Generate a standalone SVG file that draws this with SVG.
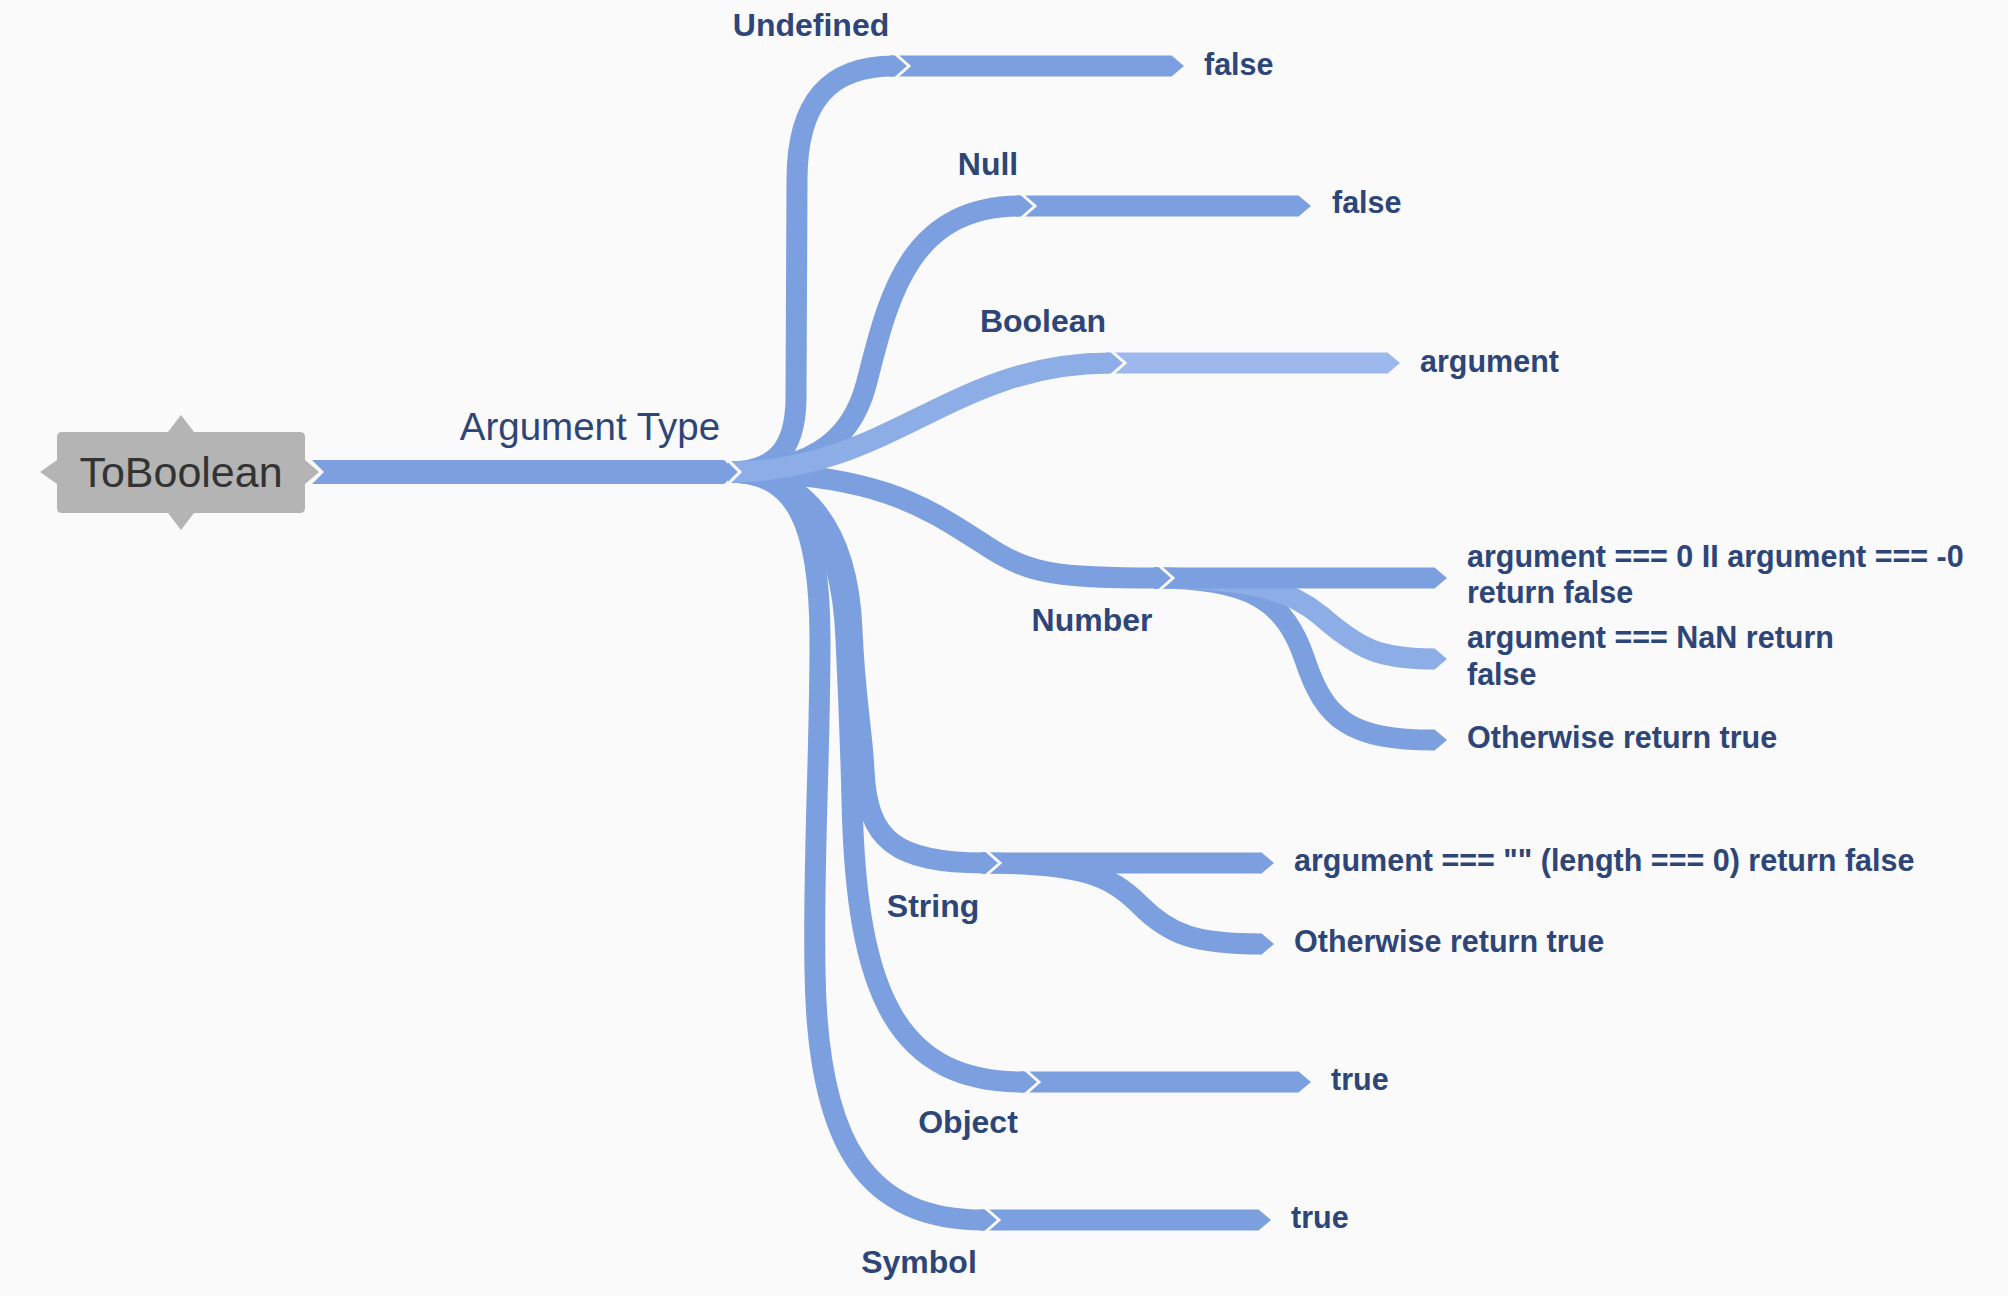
<svg xmlns="http://www.w3.org/2000/svg" width="2008" height="1296" viewBox="0 0 2008 1296">
<style>
.br{fill:none;stroke:#7b9fdf;stroke-width:21;stroke-linecap:butt;stroke-linejoin:round}
.lt{stroke:#8dade6}
.lt2{stroke:#9cb8ec}
.cat{font-family:"Liberation Sans",Arial,sans-serif;font-weight:bold;font-size:32px;fill:#2e4677;text-anchor:middle}
.leaf{font-family:"Liberation Sans",Arial,sans-serif;font-weight:bold;font-size:30.5px;fill:#2e4677}
.gap{fill:none;stroke:#fafafa;stroke-width:3}
</style>
<defs>
<marker id="jn" markerUnits="userSpaceOnUse" markerWidth="20" markerHeight="30" refX="0" refY="15" orient="auto" overflow="visible">
<path d="M-0.5,4.5 L12,15 L-0.5,25.5 Z" fill="#7b9fdf"/>
<path class="gap" d="M2,3.5 L15,15 L2,26.5"/>
</marker>
<marker id="jnL" markerUnits="userSpaceOnUse" markerWidth="20" markerHeight="30" refX="0" refY="15" orient="auto" overflow="visible">
<path d="M-0.5,4.5 L12,15 L-0.5,25.5 Z" fill="#8dade6"/>
<path class="gap" d="M2,3.5 L15,15 L2,26.5"/>
</marker>
<marker id="tp" markerUnits="userSpaceOnUse" markerWidth="20" markerHeight="30" refX="0" refY="15" orient="auto" overflow="visible">
<path d="M-0.5,4.5 L12,15 L-0.5,25.5 Z" fill="#7b9fdf"/>
</marker>
<marker id="tpL" markerUnits="userSpaceOnUse" markerWidth="20" markerHeight="30" refX="0" refY="15" orient="auto" overflow="visible">
<path d="M-0.5,4.5 L12,15 L-0.5,25.5 Z" fill="#8dade6"/>
</marker>
<marker id="tpL2" markerUnits="userSpaceOnUse" markerWidth="20" markerHeight="30" refX="0" refY="15" orient="auto" overflow="visible">
<path d="M-0.5,4.5 L12,15 L-0.5,25.5 Z" fill="#9cb8ec"/>
</marker>
</defs>
<rect width="2008" height="1296" fill="#fafafa"/>

<g id="connectors">
<!-- leaf bars -->
<path class="br" d="M890,66 H1172" marker-end="url(#tp)"/>
<path class="br" d="M1016,206 H1299" marker-end="url(#tp)"/>
<path class="br lt2" d="M1106,363 H1388" marker-end="url(#tpL2)"/>
<path class="br" d="M1154,578 C1250,578 1285,600 1305,660 C1325,720 1350,740 1435,740" marker-end="url(#tp)"/>
<path class="br lt" d="M1154,578 C1250,578 1290,590 1320,615 C1360,650 1380,659 1435,659" marker-end="url(#tpL)"/>
<path class="br" d="M1154,578 H1435" marker-end="url(#tp)"/>
<path class="br" d="M981,863 C1080,863 1110,875 1140,905 C1170,935 1195,944 1262,944" marker-end="url(#tp)"/>
<path class="br" d="M981,863 H1262" marker-end="url(#tp)"/>
<path class="br" d="M1020,1082 H1299" marker-end="url(#tp)"/>
<path class="br" d="M980,1220 H1259" marker-end="url(#tp)"/>
<!-- category branches -->
<path class="br" d="M728,472 C795,472 820,520 820,640 C820,760 813,860 815,970 C817,1150 870,1220 984,1220" marker-end="url(#jn)"/>
<path class="br" d="M728,472 C800,472 842,530 846,640 C850,720 851,760 852,800 C856,1000 900,1082 1024,1082" marker-end="url(#jn)"/>
<path class="br" d="M728,472 C805,472 848,530 852,630 C855,700 862,730 864,770 C867,840 895,863 985,863" marker-end="url(#jn)"/>
<path class="br" d="M728,472 C880,472 930,510 985,545 C1030,575 1060,578 1158,578" marker-end="url(#jn)"/>
<path class="br" d="M728,472 C775,472 795,450 796,400 L797,180 C797,100 830,66 894,66" marker-end="url(#jn)"/>
<path class="br" d="M728,472 C805,472 850,445 866,385 C887,305 905,206 1020,206" marker-end="url(#jn)"/>
<path class="br lt" d="M728,472 C890,472 950,363 1110,363" marker-end="url(#jnL)"/>
<!-- trunk -->
<path d="M312,460 L724,460 L737,472 L724,484 L312,484 L324,472 Z" fill="#7b9fdf"/>
<polyline class="gap" points="726.5,458.5 740,472 726.5,485.5"/>
</g>

<g id="root">
<path d="M57,437 Q57,432 62,432 L168,432 L181,415 L194,432 L300,432 Q305,432 305,437 L305,460 L319,472 L305,484 L305,508 Q305,513 300,513 L194,513 L181,530 L168,513 L62,513 Q57,513 57,508 L57,484 L40,472 L57,460 Z" fill="#b4b4b4"/>
<text x="181" y="487" font-family="'Liberation Sans',Arial,sans-serif" font-size="43" fill="#333333" text-anchor="middle">ToBoolean</text>
</g>
<g id="argtype"><text x="590" y="440" font-family="'Liberation Sans',Arial,sans-serif" font-size="38.5" fill="#2e4677" text-anchor="middle">Argument Type</text></g>

<g id="undefined"><text class="cat" x="811" y="36">Undefined</text></g>
<g id="null"><text class="cat" x="988" y="175">Null</text></g>
<g id="boolean"><text class="cat" x="1043" y="332">Boolean</text></g>
<g id="number"><text class="cat" x="1092" y="631">Number</text></g>
<g id="string"><text class="cat" x="933" y="917">String</text></g>
<g id="object"><text class="cat" x="968" y="1133">Object</text></g>
<g id="symbol"><text class="cat" x="919" y="1273">Symbol</text></g>

<g id="undefined-false"><text class="leaf" x="1204" y="75">false</text></g>
<g id="null-false"><text class="leaf" x="1332" y="213">false</text></g>
<g id="boolean-arg"><text class="leaf" x="1420" y="372">argument</text></g>
<g id="number-zero"><text class="leaf" x="1467" y="567">argument === 0 II argument === -0<tspan x="1467" y="603">return false</tspan></text></g>
<g id="number-nan"><text class="leaf" x="1467" y="648">argument === NaN return<tspan x="1467" y="685">false</tspan></text></g>
<g id="number-other"><text class="leaf" x="1467" y="748">Otherwise return true</text></g>
<g id="string-empty"><text class="leaf" x="1294" y="871">argument === "" (length === 0) return false</text></g>
<g id="string-other"><text class="leaf" x="1294" y="952">Otherwise return true</text></g>
<g id="object-true"><text class="leaf" x="1331" y="1090">true</text></g>
<g id="symbol-true"><text class="leaf" x="1291" y="1228">true</text></g>
</svg>
